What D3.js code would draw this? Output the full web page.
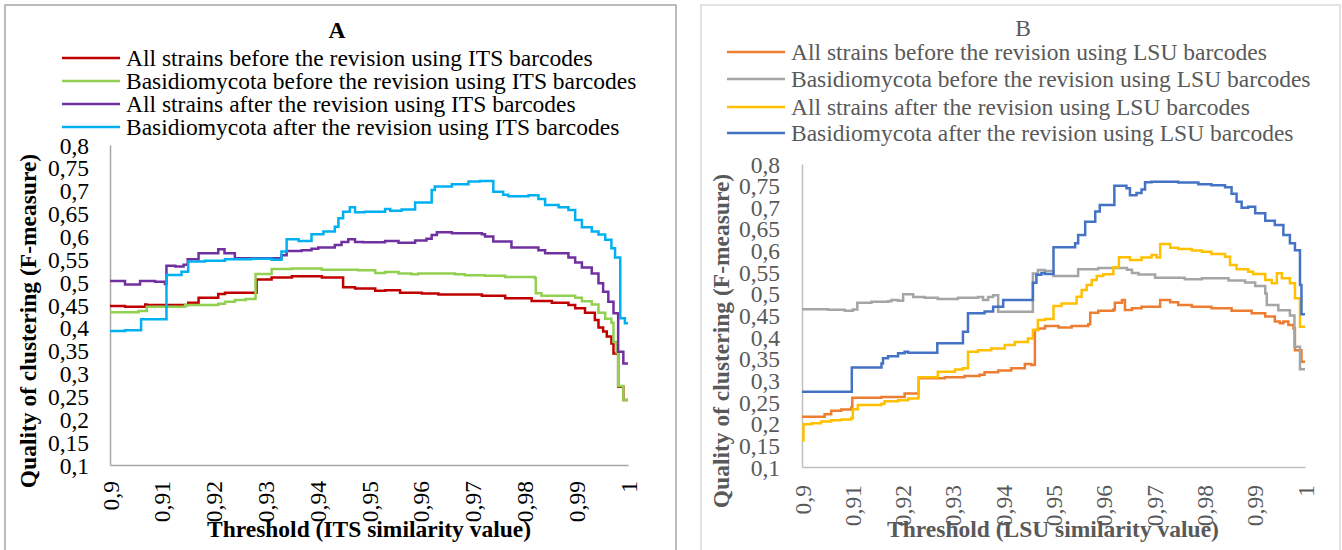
<!DOCTYPE html>
<html>
<head>
<meta charset="utf-8">
<script src="https://cdn.jsdelivr.net/npm/d3@7"></script>
<style>
  html, body { margin: 0; padding: 0; background: #fff; }
  svg { display: block; }
  svg text { font-family: "Liberation Serif", "Times New Roman", serif; }
</style>
</head>
<body>
<svg id="chart" width="1342" height="550"></svg>
<script>
// ---- Data: F-measure against similarity threshold (step values) ----
const yTickValues = [0.1, 0.15, 0.2, 0.25, 0.3, 0.35, 0.4, 0.45, 0.5, 0.55, 0.6, 0.65, 0.7, 0.75, 0.8];
const yTickLabels = ["0,1", "0,15", "0,2", "0,25", "0,3", "0,35", "0,4", "0,45", "0,5", "0,55", "0,6", "0,65", "0,7", "0,75", "0,8"];
const xTickValues = [0.9, 0.91, 0.92, 0.93, 0.94, 0.95, 0.96, 0.97, 0.98, 0.99, 1.0];
const xTickLabels = ["0,9", "0,91", "0,92", "0,93", "0,94", "0,95", "0,96", "0,97", "0,98", "0,99", "1"];

// ITS barcodes
const itsAllBefore = [[0.9,0.448],[0.9029,0.446],[0.9068,0.451],[0.9071,0.450],[0.9151,0.455],[0.9171,0.466],[0.9209,0.474],[0.9222,0.477],[0.9283,0.506],[0.9312,0.510],[0.9351,0.513],[0.9409,0.510],[0.9450,0.489],[0.9473,0.486],[0.9512,0.481],[0.9531,0.482],[0.9560,0.477],[0.9602,0.475],[0.9634,0.473],[0.9718,0.470],[0.9763,0.465],[0.9814,0.459],[0.9853,0.455],[0.9885,0.450],[0.9898,0.443],[0.9917,0.433],[0.9936,0.417],[0.9943,0.401],[0.9952,0.392],[0.9959,0.381],[0.9968,0.366],[0.9972,0.344],[0.9981,0.271],[0.9991,0.242],[1.0,0.242]];
const itsBasidioBefore = [[0.9,0.434],[0.9055,0.437],[0.9071,0.446],[0.9145,0.450],[0.9209,0.453],[0.9222,0.457],[0.9241,0.461],[0.9262,0.463],[0.9281,0.518],[0.9312,0.529],[0.9351,0.530],[0.9409,0.527],[0.9479,0.526],[0.9512,0.520],[0.9531,0.522],[0.9557,0.519],[0.9582,0.517],[0.9595,0.519],[0.9666,0.517],[0.9685,0.515],[0.9724,0.514],[0.9763,0.511],[0.9820,0.509],[0.9822,0.4755],[0.9833,0.470],[0.9898,0.466],[0.9911,0.458],[0.9930,0.451],[0.9943,0.433],[0.9956,0.420],[0.9968,0.411],[0.9972,0.369],[0.9978,0.346],[0.9981,0.273],[0.9991,0.242],[1.0,0.242]];
const itsAllAfter = [[0.9,0.5025],[0.9029,0.495],[0.9058,0.5025],[0.9087,0.501],[0.9106,0.496],[0.9109,0.536],[0.9126,0.534],[0.9142,0.538],[0.9150,0.550],[0.9171,0.563],[0.9209,0.572],[0.9221,0.563],[0.9241,0.552],[0.9331,0.559],[0.9341,0.568],[0.9370,0.570],[0.9389,0.573],[0.9402,0.576],[0.9434,0.581],[0.9447,0.588],[0.9460,0.594],[0.9473,0.588],[0.9489,0.587],[0.9531,0.590],[0.9557,0.586],[0.9589,0.591],[0.9611,0.595],[0.9621,0.603],[0.9631,0.609],[0.9660,0.607],[0.9718,0.605],[0.9724,0.600],[0.9740,0.589],[0.9775,0.576],[0.9827,0.570],[0.9840,0.563],[0.9885,0.554],[0.9898,0.543],[0.9911,0.532],[0.9930,0.519],[0.9943,0.4975],[0.9952,0.479],[0.9962,0.457],[0.9972,0.432],[0.9981,0.348],[0.9991,0.322],[1.0,0.322]];
const itsBasidioAfter = [[0.9,0.393],[0.9029,0.395],[0.9060,0.419],[0.9109,0.5156],[0.9138,0.523],[0.9151,0.545],[0.9183,0.547],[0.9222,0.550],[0.9273,0.551],[0.9312,0.549],[0.9331,0.567],[0.9341,0.594],[0.9364,0.590],[0.9389,0.605],[0.9412,0.611],[0.9434,0.621],[0.9441,0.640],[0.9450,0.654],[0.9463,0.664],[0.9473,0.653],[0.9492,0.654],[0.9531,0.660],[0.9541,0.656],[0.9563,0.659],[0.9589,0.674],[0.9621,0.7016],[0.9627,0.709],[0.9660,0.714],[0.9692,0.720],[0.9714,0.721],[0.9740,0.698],[0.9759,0.691],[0.9769,0.688],[0.9808,0.690],[0.9827,0.682],[0.9840,0.669],[0.9866,0.664],[0.9885,0.658],[0.9898,0.636],[0.9911,0.620],[0.9930,0.611],[0.9943,0.604],[0.9956,0.593],[0.9968,0.574],[0.9975,0.554],[0.9985,0.421],[0.9994,0.410],[1.0,0.410]];

// LSU barcodes
const lsuAllBefore = [[0.9,0.2163],[0.9045,0.222],[0.9058,0.230],[0.9078,0.233],[0.9098,0.237],[0.9100,0.260],[0.9158,0.262],[0.9204,0.270],[0.9230,0.271],[0.9232,0.305],[0.9284,0.3075],[0.9323,0.3105],[0.9353,0.313],[0.9363,0.319],[0.9390,0.323],[0.9416,0.328],[0.9443,0.338],[0.9456,0.3355],[0.9463,0.4165],[0.9469,0.420],[0.9483,0.426],[0.9510,0.422],[0.9536,0.426],[0.9569,0.430],[0.9573,0.4565],[0.9589,0.461],[0.9619,0.464],[0.9622,0.4796],[0.9636,0.486],[0.9642,0.4625],[0.9656,0.467],[0.9675,0.470],[0.9712,0.4858],[0.9732,0.4805],[0.9748,0.474],[0.9775,0.470],[0.9814,0.467],[0.9854,0.461],[0.9894,0.455],[0.9921,0.4475],[0.9940,0.436],[0.9950,0.432],[0.9957,0.436],[0.9967,0.428],[0.9977,0.4205],[0.9980,0.370],[0.9993,0.343],[1.0,0.343]];
const lsuBasidioBefore = [[0.9,0.4643],[0.9052,0.463],[0.9085,0.461],[0.9101,0.464],[0.9110,0.4796],[0.9138,0.482],[0.9171,0.483],[0.9178,0.486],[0.9191,0.484],[0.9201,0.499],[0.9221,0.493],[0.9244,0.491],[0.9270,0.488],[0.9310,0.491],[0.9350,0.493],[0.9360,0.486],[0.9370,0.493],[0.9380,0.497],[0.9390,0.4588],[0.9459,0.547],[0.9469,0.555],[0.9483,0.5528],[0.9500,0.541],[0.9549,0.5567],[0.9589,0.560],[0.9646,0.5555],[0.9656,0.548],[0.9669,0.545],[0.9702,0.537],[0.9761,0.534],[0.9795,0.536],[0.9848,0.531],[0.9881,0.526],[0.9901,0.518],[0.9921,0.501],[0.9924,0.474],[0.9947,0.462],[0.9970,0.450],[0.9979,0.378],[0.9990,0.3257],[1.0,0.3257]];
const lsuAllAfter = [[0.9,0.162],[0.9003,0.1986],[0.9019,0.201],[0.9038,0.205],[0.9058,0.208],[0.9078,0.210],[0.9098,0.213],[0.9101,0.2333],[0.9111,0.243],[0.9158,0.246],[0.9164,0.252],[0.9191,0.254],[0.9211,0.258],[0.9231,0.2625],[0.9232,0.3072],[0.9270,0.320],[0.9304,0.325],[0.9320,0.328],[0.9330,0.3664],[0.9350,0.370],[0.9376,0.374],[0.9403,0.382],[0.9423,0.389],[0.9449,0.397],[0.9459,0.4165],[0.9469,0.4396],[0.9483,0.4419],[0.9500,0.472],[0.9516,0.478],[0.9546,0.4935],[0.9556,0.509],[0.9566,0.5205],[0.9576,0.532],[0.9586,0.541],[0.9599,0.5455],[0.9619,0.5613],[0.9630,0.5845],[0.9652,0.578],[0.9675,0.5838],[0.9695,0.590],[0.9705,0.5838],[0.9712,0.615],[0.9732,0.6066],[0.9748,0.6036],[0.9775,0.600],[0.9795,0.597],[0.9814,0.592],[0.9841,0.586],[0.9851,0.5667],[0.9864,0.557],[0.9887,0.5513],[0.9897,0.546],[0.9921,0.532],[0.9934,0.5244],[0.9944,0.5475],[0.9954,0.536],[0.9970,0.5244],[0.9980,0.4897],[0.9990,0.424],[1.0,0.424]];
const lsuBasidioAfter = [[0.9,0.274],[0.9099,0.330],[0.9158,0.339],[0.9161,0.351],[0.9171,0.356],[0.9191,0.3626],[0.9204,0.366],[0.9211,0.364],[0.9269,0.3857],[0.9320,0.4126],[0.9330,0.455],[0.9363,0.459],[0.9380,0.470],[0.9400,0.4858],[0.9459,0.5258],[0.9466,0.544],[0.9476,0.548],[0.9483,0.5459],[0.9500,0.6075],[0.9543,0.617],[0.9549,0.636],[0.9563,0.6667],[0.9583,0.690],[0.9592,0.705],[0.9621,0.750],[0.9645,0.744],[0.9652,0.728],[0.9665,0.733],[0.9675,0.741],[0.9682,0.7577],[0.9695,0.759],[0.9748,0.757],[0.9788,0.753],[0.9814,0.751],[0.9841,0.746],[0.9854,0.731],[0.9864,0.713],[0.9874,0.699],[0.9887,0.7015],[0.9901,0.686],[0.9921,0.669],[0.9940,0.659],[0.9957,0.636],[0.9970,0.617],[0.9980,0.601],[0.9990,0.5205],[0.9993,0.4528],[1.0,0.4528]];

const itsNames = [
  "All strains before the revision using ITS barcodes",
  "Basidiomycota before the revision using ITS barcodes",
  "All strains after the revision using ITS barcodes",
  "Basidiomycota after the revision using ITS barcodes"
];
const lsuNames = [
  "All strains before the revision using LSU barcodes",
  "Basidiomycota before the revision using LSU barcodes",
  "All strains after the revision using LSU barcodes",
  "Basidiomycota after the revision using LSU barcodes"
];
const itsColors = ["#C00000", "#92D050", "#7030A0", "#00B0F0"];
const lsuColors = ["#ED7D31", "#A5A5A5", "#FFC000", "#4472C4"];

// ---- Drawing ----
const FONT = '"Liberation Serif", "Times New Roman", serif';
const FS = 23.5;
const svg = d3.select("#chart");
svg.append("rect").attr("width", 1342).attr("height", 550).attr("fill", "#fff");

function panel(cfg) {
  const g = svg.append("g");
  // chart frame
  g.append("rect")
    .attr("x", cfg.frame[0]).attr("y", cfg.frame[1])
    .attr("width", cfg.frame[2]).attr("height", cfg.frame[3])
    .attr("fill", "#fff").attr("stroke", cfg.frameColor).attr("stroke-width", 1.5);

  const x = d3.scaleLinear().domain([0.9, 1.0]).range(cfg.xRange);
  const y = d3.scaleLinear().domain([0.1, 0.8]).range(cfg.yRange);

  // title
  g.append("text")
    .attr("x", cfg.title.x).attr("y", cfg.title.y)
    .attr("text-anchor", "middle")
    .style("font-family", FONT).style("font-size", FS + "px")
    .style("font-weight", cfg.title.bold ? "bold" : "normal")
    .attr("fill", cfg.textColor)
    .text(cfg.title.text);

  // legend
  const leg = g.append("g");
  cfg.names.forEach((name, i) => {
    const ly = cfg.legend.rows[i];
    leg.append("line")
      .attr("x1", cfg.legend.x1).attr("x2", cfg.legend.x2)
      .attr("y1", ly).attr("y2", ly)
      .attr("stroke", cfg.colors[i]).attr("stroke-width", 2.5);
    leg.append("text")
      .attr("x", cfg.legend.tx).attr("y", ly).attr("dy", "0.32em")
      .style("font-family", FONT).style("font-size", FS + "px")
      .attr("fill", cfg.textColor)
      .text(name);
  });

  // y axis
  const yAxis = g.append("g")
    .attr("transform", `translate(${cfg.xRange[0]},0)`)
    .call(d3.axisLeft(y).tickValues(yTickValues).tickSize(0).tickPadding(cfg.yPad)
      .tickFormat((d, i) => yTickLabels[i]));
  yAxis.select(".domain").attr("stroke", cfg.axisColor).attr("stroke-width", 1.5);
  yAxis.selectAll("text")
    .style("font-family", FONT).style("font-size", FS + "px")
    .attr("fill", cfg.textColor).attr("dy", "0.34em");

  // x axis
  const xAxis = g.append("g")
    .attr("transform", `translate(0,${cfg.yRange[0]})`)
    .call(d3.axisBottom(x).tickValues(xTickValues).tickSize(0)
      .tickFormat((d, i) => xTickLabels[i]));
  xAxis.select(".domain").attr("stroke", cfg.axisColor).attr("stroke-width", 1.5);
  xAxis.selectAll("text")
    .style("font-family", FONT).style("font-size", FS + "px")
    .attr("fill", cfg.textColor)
    .attr("transform", "rotate(-90)")
    .attr("text-anchor", "end")
    .attr("x", -cfg.xPad).attr("y", 0).attr("dy", "0.34em");

  // series
  const line = d3.line()
    .x(d => x(d[0])).y(d => y(d[1]))
    .curve(d3.curveStepAfter);
  cfg.series.forEach((s, i) => {
    g.append("path")
      .datum(s)
      .attr("fill", "none")
      .attr("stroke", cfg.colors[i])
      .attr("stroke-width", 2.5)
      .attr("stroke-linejoin", "miter")
      .attr("d", line);
  });

  // axis titles
  g.append("text")
    .attr("x", cfg.xTitle.x).attr("y", cfg.xTitle.y)
    .attr("text-anchor", "middle")
    .style("font-family", FONT).style("font-size", FS + "px").style("font-weight", "bold")
    .attr("fill", cfg.textColor)
    .text(cfg.xTitle.text);
  g.append("text")
    .attr("transform", `translate(${cfg.yTitle.x},${cfg.yTitle.y}) rotate(-90)`)
    .attr("text-anchor", "middle").attr("dy", "0.34em")
    .style("font-family", FONT).style("font-size", FS + "px").style("font-weight", "bold")
    .attr("fill", cfg.textColor)
    .text(cfg.yTitle.text);
}

panel({
  frame: [5, 5, 671, 560], frameColor: "#a6a6a6",
  xRange: [110, 628], yRange: [465, 145],
  axisColor: "#a6a6a6", textColor: "#000",
  title: { text: "A", x: 337, y: 38, bold: true },
  legend: { x1: 62, x2: 120, tx: 126, rows: [58, 81, 104, 127] },
  names: itsNames, colors: itsColors,
  series: [itsAllBefore, itsBasidioBefore, itsAllAfter, itsBasidioAfter],
  yPad: 21, xPad: 16,
  xTitle: { text: "Threshold (ITS similarity value)", x: 369, y: 537 },
  yTitle: { text: "Quality of clustering (F-measure)", x: 28, y: 321 }
});

panel({
  frame: [701, 5, 639, 560], frameColor: "#d9d9d9",
  xRange: [802, 1305], yRange: [467, 164],
  axisColor: "#bfbfbf", textColor: "#595959",
  title: { text: "B", x: 1023, y: 36, bold: false },
  legend: { x1: 727, x2: 785, tx: 791, rows: [52, 79, 107, 133] },
  names: lsuNames, colors: lsuColors,
  series: [lsuAllBefore, lsuBasidioBefore, lsuAllAfter, lsuBasidioAfter],
  yPad: 22, xPad: 18,
  xTitle: { text: "Threshold (LSU similarity value)", x: 1053, y: 537 },
  yTitle: { text: "Quality of clustering (F-measure)", x: 721, y: 341 }
});
</script>
</body>
</html>
